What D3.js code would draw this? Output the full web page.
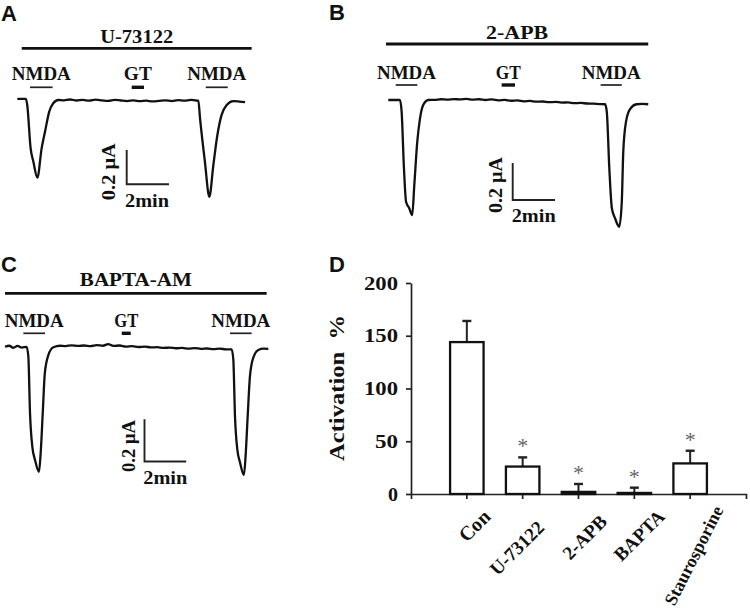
<!DOCTYPE html>
<html><head><meta charset="utf-8">
<script src="https://cdn.jsdelivr.net/npm/d3@7"></script>
<style>body{margin:0;background:#fff}</style>
</head><body><svg id="c" width="750" height="608"></svg>
<script>
// ---------------- DATA ----------------
// Panel A (U-73122): time in min, current in µA
const traceA_time = [0, 0.41, 0.47, 0.63, 0.76, 0.95, 1.15, 1.31, 1.51, 1.70, 1.94, 2.2, 2.5, 2.8, 3.1, 3.4, 3.7, 4.0, 4.3, 4.6, 4.9, 5.2, 5.5, 5.8, 6.1, 6.4, 6.7, 7.0, 7.3, 7.6, 7.9, 8.2, 8.45, 8.56, 8.64, 8.87, 9.08, 9.27, 9.46, 9.66, 9.90, 10.21, 10.5, 10.77];
const traceA_current = [0.006, 0.006, -0.029, -0.282, -0.36, -0.453, -0.282, -0.185, -0.068, -0.019, 0, -0.002, 0.003, -0.003, 0.001, -0.004, 0.002, -0.002, -0.005, 0.001, -0.003, -0.006, -0.002, -0.007, -0.004, -0.008, -0.005, -0.002, -0.006, -0.001, -0.004, 0.001, -0.003, -0.004, -0.107, -0.36, -0.564, -0.379, -0.204, -0.087, -0.029, -0.006, -0.009, -0.013];
const nmdaA = [[0.60, 1.67], [8.91, 9.95]];
const gtA = [5.41, 5.99];
const drugA = [0.21, 11.08];

// Panel B (2-APB)
const traceB_time = [0, 0.55, 0.63, 0.74, 0.84, 0.99, 1.13, 1.23, 1.37, 1.50, 1.65, 1.89, 2.2, 2.5, 2.8, 3.1, 3.4, 3.7, 4.0, 4.3, 4.6, 4.9, 5.2, 5.5, 5.8, 6.1, 6.4, 6.7, 7.0, 7.3, 7.6, 7.9, 8.2, 8.5, 8.8, 9.1, 9.4, 9.7, 10.0, 10.25, 10.33, 10.45, 10.57, 10.72, 10.92, 11.04, 11.11, 11.24, 11.43, 11.74, 12.0, 12.29];
const traceB_current = [0, 0, -0.063, -0.369, -0.55, -0.585, -0.622, -0.459, -0.225, -0.099, -0.027, 0, 0.001, 0.004, 0.002, 0.005, 0.003, 0.006, 0.002, 0.004, 0.000, 0.003, -0.002, 0.001, -0.004, -0.002, -0.007, -0.005, -0.009, -0.008, -0.012, -0.010, -0.014, -0.013, -0.017, -0.016, -0.019, -0.020, -0.022, -0.023, -0.063, -0.369, -0.585, -0.639, -0.685, -0.55, -0.279, -0.117, -0.049, -0.023, -0.021, -0.023];
const nmdaB = [[0.35, 1.37], [10.04, 11.04]];
const gtB = [5.36, 5.99];
const drugB = [-0.11, 12.29];

// Panel C (BAPTA-AM)
const traceC_time = [0, 0.2, 0.4, 0.6, 0.8, 1.04, 1.12, 1.20, 1.31, 1.44, 1.63, 1.71, 1.81, 1.91, 2.08, 2.32, 2.64, 2.9, 3.2, 3.5, 3.8, 4.1, 4.4, 4.7, 4.95, 5.2, 5.5, 5.8, 6.1, 6.4, 6.7, 7.0, 7.3, 7.6, 7.9, 8.2, 8.5, 8.8, 9.1, 9.4, 9.7, 10.0, 10.3, 10.6, 10.87, 10.95, 11.03, 11.14, 11.27, 11.46, 11.54, 11.64, 11.75, 11.91, 12.15, 12.4, 12.63];
const traceC_current = [0.001, 0.006, -0.004, 0.005, -0.003, 0.001, -0.046, -0.313, -0.471, -0.534, -0.59, -0.503, -0.313, -0.124, -0.038, -0.001, 0.006, 0.004, 0.008, 0.005, 0.007, 0.004, 0.009, 0.006, 0.014, 0.005, 0.007, 0.002, 0.004, 0.000, 0.002, -0.002, -0.001, -0.004, -0.003, -0.006, -0.004, -0.008, -0.005, -0.009, -0.007, -0.010, -0.008, -0.011, -0.011, -0.058, -0.326, -0.483, -0.545, -0.605, -0.515, -0.326, -0.137, -0.05, -0.014, -0.008, -0.009];
const nmdaC = [[0.88, 1.92], [10.79, 11.83]];
const gtC = [5.60, 6.03];
const drugC = [0, 12.55];

// Panel D (bar chart)
const barCategories = ["Con", "U-73122", "2-APB", "BAPTA", "Staurosporine"];
const barMeans = [144, 26, 2, 1, 29];
const barErrors = [20, 8.7, 7.5, 5, 12];
const barSignificant = [false, true, true, true, true];
const yTickValues = [0, 50, 100, 150, 200];

// ---------------- LAYOUT ----------------
const svg = d3.select('#c');
svg.append('rect').attr('width', 750).attr('height', 608).attr('fill', '#fff');
const serif = '"Liberation Serif","Times New Roman",serif';
const sans = '"Liberation Sans",Arial,sans-serif';
const ink = '#111';

function fit(sel, w) {
  sel.attr('textLength', w).attr('lengthAdjust', 'spacingAndGlyphs');
  return sel;
}
function letter(t, x, y) {
  svg.append('text').attr('x', x).attr('y', y).text(t)
    .attr('font-family', sans).attr('font-weight', 'bold').attr('font-size', 22).attr('fill', ink);
}

const tracePanels = [
  { letter: 'A', lx: 1, ly: 21, title: 'U-73122', titleW: 73, gtW: 28, vlW: 57,
    time: traceA_time, curr: traceA_current, nmda: nmdaA, gt: gtA, drug: drugA,
    x0: 17.3, y0: 100, pxMin: 21.15, pxUA: 171.5, titleY: 42.5, drugY: 48.3, labY: 80, appY: 87.3,
    sb: { x: 126.7, y: 184.3, vlx: 115, vly: 171.7, hx: 125, hy: 206.7 } },
  { letter: 'B', lx: 329, ly: 20, title: '2-APB', titleW: 62, gtW: 25, vlW: 56,
    time: traceB_time, curr: traceB_current, nmda: nmdaB, gt: gtB, drug: drugB,
    x0: 388.3, y0: 100, pxMin: 21.15, pxUA: 185, titleY: 39.3, drugY: 44, labY: 79, appY: 85,
    sb: { x: 512.7, y: 200, vlx: 501.7, vly: 185, hx: 511.7, hy: 221.7 } },
  { letter: 'C', lx: 1, ly: 272, title: 'BAPTA-AM', titleW: 112, gtW: 24, vlW: 52,
    time: traceC_time, curr: traceC_current, nmda: nmdaC, gt: gtC, drug: drugC,
    x0: 5, y0: 347, pxMin: 20.85, pxUA: 211.5, titleY: 286, drugY: 293.3, labY: 327.3, appY: 333.3,
    sb: { x: 144.5, y: 461.5, vlx: 135, vly: 446, hx: 143.3, hy: 484 } }
];

tracePanels.forEach(p => {
  letter(p.letter, p.lx, p.ly);
  const xs = d3.scaleLinear().domain([0, 1]).range([p.x0, p.x0 + p.pxMin]);
  const ys = d3.scaleLinear().domain([0, -1]).range([p.y0, p.y0 + p.pxUA]);
  const g = svg.append('g');
  g.append('line').attr('x1', xs(p.drug[0])).attr('x2', xs(p.drug[1]))
    .attr('y1', p.drugY).attr('y2', p.drugY).attr('stroke', ink).attr('stroke-width', 2.8);
  fit(g.append('text').attr('x', (xs(p.drug[0]) + xs(p.drug[1])) / 2).attr('y', p.titleY)
    .attr('text-anchor', 'middle').attr('font-family', serif).attr('font-weight', 'bold')
    .attr('font-size', 19).attr('fill', ink).text(p.title), p.titleW);
  p.nmda.forEach(iv => {
    g.append('line').attr('x1', xs(iv[0])).attr('x2', xs(iv[1]))
      .attr('y1', p.appY).attr('y2', p.appY).attr('stroke', '#222').attr('stroke-width', 1.7);
    fit(g.append('text').attr('x', (xs(iv[0]) + xs(iv[1])) / 2).attr('y', p.labY)
      .attr('text-anchor', 'middle').attr('font-family', serif).attr('font-weight', 'bold')
      .attr('font-size', 19.5).attr('fill', ink).text('NMDA'), 59);
  });
  g.append('line').attr('x1', xs(p.gt[0])).attr('x2', xs(p.gt[1]))
    .attr('y1', p.appY).attr('y2', p.appY).attr('stroke', ink).attr('stroke-width', 3.4);
  fit(g.append('text').attr('x', (xs(p.gt[0]) + xs(p.gt[1])) / 2).attr('y', p.labY)
    .attr('text-anchor', 'middle').attr('font-family', serif).attr('font-weight', 'bold')
    .attr('font-size', 19.5).attr('fill', ink).text('GT'), p.gtW);
  const pts = p.time.map((t, i) => [t, p.curr[i]]);
  g.append('path').datum(pts)
    .attr('d', d3.line().x(d => xs(d[0])).y(d => ys(d[1])).curve(d3.curveMonotoneX))
    .attr('fill', 'none').attr('stroke', ink).attr('stroke-width', 2.3).attr('stroke-linejoin', 'round');
  const vLen = ys(-0.2) - ys(0);
  const hLen = xs(2) - xs(0);
  g.append('path').attr('d', `M${p.sb.x},${p.sb.y - vLen}V${p.sb.y}H${p.sb.x + hLen}`)
    .attr('fill', 'none').attr('stroke', '#222').attr('stroke-width', 1.9);
  fit(g.append('text').attr('transform', `translate(${p.sb.vlx},${p.sb.vly}) rotate(-90)`)
    .attr('text-anchor', 'middle').attr('font-family', serif).attr('font-weight', 'bold')
    .attr('font-size', 19).attr('fill', ink).text('0.2 μA'), p.vlW);
  fit(g.append('text').attr('x', p.sb.hx).attr('y', p.sb.hy)
    .attr('font-family', serif).attr('font-weight', 'bold')
    .attr('font-size', 19).attr('fill', ink).text('2min'), 44);
});

// ---------------- PANEL D ----------------
letter('D', 329, 272);
const x = d3.scaleBand().domain(barCategories).range([411, 746]).paddingInner(0.4).paddingOuter(0.7);
const y = d3.scaleLinear().domain([0, 200]).range([494, 283]);
const gD = svg.append('g');

const tickW = { 0: 10, 50: 23, 100: 34, 150: 34, 200: 34 };
const yAxis = gD.append('g').attr('transform', 'translate(411,0)')
  .call(d3.axisLeft(y).tickValues(yTickValues).tickSize(5).tickSizeOuter(0).tickPadding(8));
yAxis.select('.domain').attr('stroke', '#222').attr('stroke-width', 1.7);
yAxis.selectAll('.tick line').attr('stroke', '#222').attr('stroke-width', 1.7);
yAxis.selectAll('.tick text').attr('font-family', serif).attr('font-weight', 'bold')
  .attr('font-size', 19).attr('fill', ink)
  .attr('textLength', d => tickW[d]).attr('lengthAdjust', 'spacingAndGlyphs');

const xAxis = gD.append('g').attr('transform', 'translate(0,494)')
  .call(d3.axisBottom(x).tickSize(5).tickSizeOuter(5).tickFormat(''));
xAxis.select('.domain').attr('stroke', '#222').attr('stroke-width', 1.7);
xAxis.selectAll('.tick line').attr('stroke', '#222').attr('stroke-width', 1.7);

barCategories.forEach((c, i) => {
  const cx = x(c) + x.bandwidth() / 2;
  const top = y(barMeans[i] + barErrors[i]);
  gD.append('line').attr('x1', cx).attr('x2', cx).attr('y1', y(barMeans[i])).attr('y2', top)
    .attr('stroke', '#222').attr('stroke-width', 2);
  gD.append('line').attr('x1', cx - 4.5).attr('x2', cx + 4.5).attr('y1', top).attr('y2', top)
    .attr('stroke', '#222').attr('stroke-width', 2.4);
  if (barSignificant[i]) {
    gD.append('text').attr('x', cx).attr('y', top - 4).attr('text-anchor', 'middle')
      .attr('font-family', serif).attr('font-size', 22).attr('fill', '#666').text('*');
  }
});
gD.selectAll('rect.bar').data(barCategories).enter().append('rect')
  .attr('x', d => x(d)).attr('width', x.bandwidth())
  .attr('y', (d, i) => y(barMeans[i])).attr('height', (d, i) => y(0) - y(barMeans[i]))
  .attr('fill', '#fff').attr('stroke', '#111').attr('stroke-width', 2.3);

// category labels (end of text anchored near each tick)
const labelAngles = [-45, -45, -45, -45, -63];
const labelEnd = [[20, 513], [18, 524], [25, 518], [27, 513], [28, 507]];
const labelSize = [20, 19, 19, 19, 18];
barCategories.forEach((c, i) => {
  const cx = x(c) + x.bandwidth() / 2;
  gD.append('text').attr('transform', `translate(${cx + labelEnd[i][0]},${labelEnd[i][1]}) rotate(${labelAngles[i]})`)
    .attr('text-anchor', 'end').attr('dy', '0.35em')
    .attr('font-family', serif).attr('font-weight', 'bold').attr('font-size', labelSize[i]).attr('fill', ink).text(c);
});

// y-axis title
fit(gD.append('text').attr('transform', 'translate(344,388) rotate(-90)')
  .attr('text-anchor', 'middle').attr('font-family', serif).attr('font-weight', 'bold')
  .attr('font-size', 21).attr('fill', ink).attr('xml:space', 'preserve').text('Activation  %'), 146);
</script></body></html>
